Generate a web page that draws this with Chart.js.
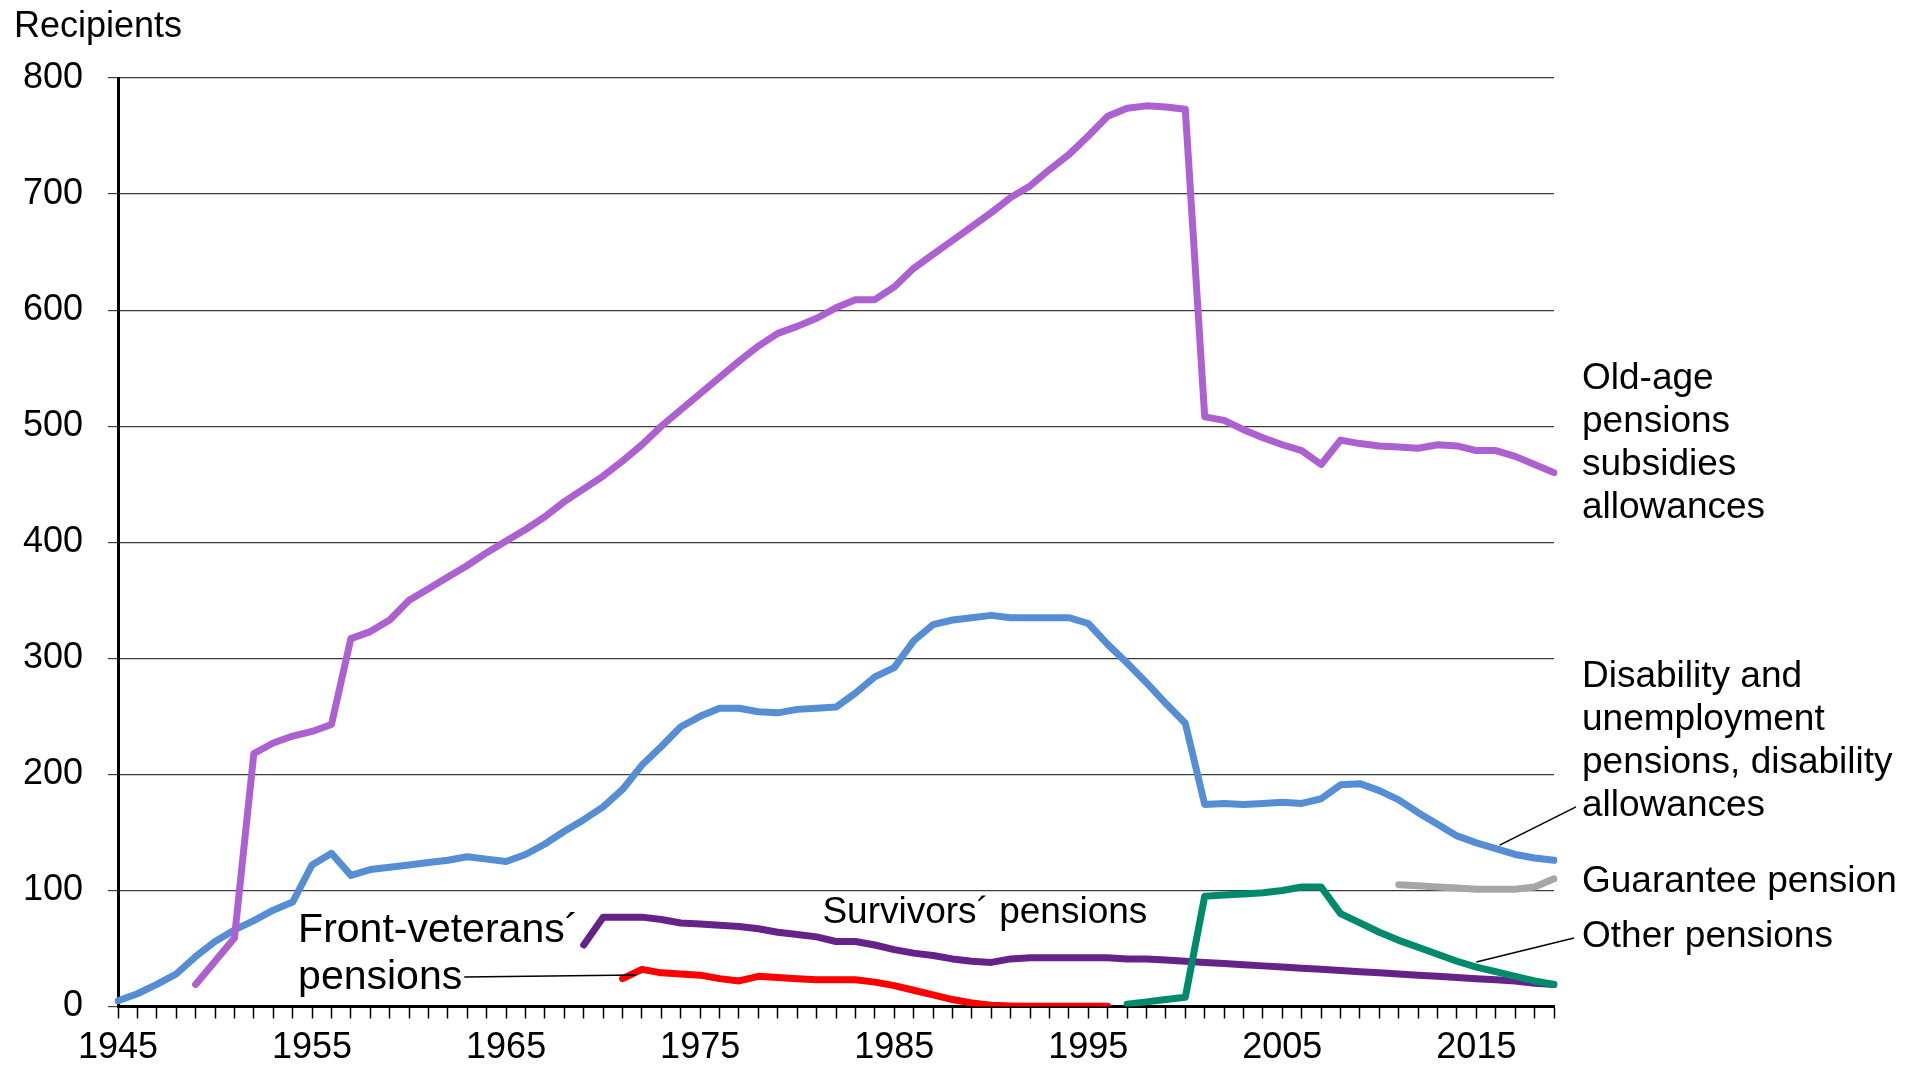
<!DOCTYPE html>
<html>
<head>
<meta charset="utf-8">
<script src="https://cdn.jsdelivr.net/npm/chart.js@4"></script>
<style>
  html, body { margin: 0; padding: 0; background: #fff; }
  canvas { display: block; }
</style>
</head>
<body>
<canvas id="chart" width="1921" height="1070"></canvas>
<script>
// --- DATA --- //
// years on the category axis
const years = []
for (let y = 1945; y <= 2019; y++) years.push(String(y))

// labels shown under the axis
const yearTicks = ['1945', '1955', '1965', '1975', '1985', '1995', '2005', '2015']
const valueTicks = [0, 100, 200, 300, 400, 500, 600, 700, 800]

// each series starts in a given year, values are thousands of recipients
const oldAgeStart = 1949
const oldAge = [
  19, 39, 59, 218, 227, 233, 237, 243, 317, 323,      // 1949-1958
  333, 350, 360, 370, 380, 391, 401, 411, 422, 435,    // 1959-1968
  446, 457, 470, 484, 500, 514, 528, 542, 556, 569,    // 1969-1978
  580, 586, 593, 602, 609, 609, 620, 636, 648, 660,    // 1979-1988
  672, 684, 697, 707, 721, 734, 750, 767, 774, 776,    // 1989-1998
  775, 773, 508, 505, 497, 490, 484, 479, 467, 488,    // 1999-2008
  485, 483, 482, 481, 484, 483, 479, 479, 474, 467,    // 2009-2018
  460                                                  // 2019
]

const disabilityStart = 1945
const disability = [
  5, 11, 19, 28, 43, 56, 66, 74, 83, 90,               // 1945-1954
  122, 132, 113, 118, 120, 122, 124, 126, 129, 127,    // 1955-1964
  125, 131, 140, 151, 161, 172, 187, 208, 224, 241,    // 1965-1974
  250, 257, 257, 254, 253, 256, 257, 258, 270, 284,    // 1975-1984
  292, 315, 329, 333, 335, 337, 335, 335, 335, 335,    // 1985-1994
  330, 312, 296, 279, 261, 244, 174, 175, 174, 175,    // 1995-2004
  176, 175, 179, 191, 192, 186, 178, 167, 157, 147,    // 2005-2014
  141, 136, 131, 128, 126                              // 2015-2019
]

const survivorsStart = 1969
const survivors = [
  53, 77, 77, 77, 75, 72, 71, 70, 69, 67,              // 1969-1978
  64, 62, 60, 56, 56, 53, 49, 46, 44, 41,              // 1979-1988
  39, 38, 41, 42, 42, 42, 42, 42, 41, 41,              // 1989-1998
  40, 39, 38, 37, 36, 35, 34, 33, 32, 31,              // 1999-2008
  30, 29, 28, 27, 26, 25, 24, 23, 22, 20,              // 2009-2018
  19                                                   // 2019
]

const frontVeteransStart = 1971
const frontVeterans = [
  24, 32, 29, 28, 27, 24, 22, 26, 25, 24,              // 1971-1980
  23, 23, 23, 21, 18, 14, 10, 6, 3, 1,                 // 1981-1990
  0.5, 0.3, 0.2, 0.2, 0.2, 0.2                         // 1991-1996
]

const otherStart = 1997
const other = [
  2, 4, 6, 8, 95, 96, 97, 98, 100, 103,                // 1997-2006
  103, 80, 72, 64, 57, 51, 45, 39, 34, 30,             // 2007-2016
  26, 22, 19                                           // 2017-2019
]

const guaranteeStart = 2011
const guarantee = [105, 104, 103, 102, 101, 101, 101, 103, 110] // 2011-2019

// places a series on the full year axis, missing years stay empty
function onAxis (start, values) {
  return years.map(y => {
    const i = Number(y) - start
    return i >= 0 && i < values.length ? values[i] : null
  })
}

// --- STYLE --- //
const FONT = '"Liberation Sans", Arial, sans-serif'

function line (label, data, color, order) {
  return {
    label,
    data,
    borderColor: color,
    backgroundColor: color,
    borderWidth: 7,
    borderJoinStyle: 'round',
    borderCapStyle: 'round',
    pointRadius: 0,
    tension: 0,
    spanGaps: false,
    order
  }
}

// --- LABELS & LEADER LINES --- //
const annotations = {
  id: 'annotations',
  afterDraw: chart => {
    const ctx = chart.ctx
    const xs = chart.scales.x
    const ys = chart.scales.y
    const area = chart.chartArea
    const X = idx => xs.getPixelForValue(idx)
    const Y = v => ys.getPixelForValue(v)

    ctx.save()
    ctx.fillStyle = '#000'
    ctx.textAlign = 'left'
    ctx.textBaseline = 'alphabetic'

    // axis title
    ctx.font = '36px ' + FONT
    ctx.fillText('Recipients', 14, 37)

    // right side labels
    ctx.font = '37px ' + FONT
    const rx = area.right + 28
    const block = (lines, v, step) =>
      lines.forEach((t, i) => ctx.fillText(t, rx, Y(v) + i * step))
    block(['Old-age', 'pensions', 'subsidies', 'allowances'], 532, 43)
    block(['Disability and', 'unemployment', 'pensions, disability', 'allowances'], 275.3, 43)
    block(['Guarantee pension'], 98.7, 0)
    block(['Other pensions'], 51.3, 0)

    // label inside the plot
    ctx.fillText('Survivors\u00b4 pensions', X(36.3), Y(72))

    // front-veterans label, a bit larger
    ctx.font = '41px ' + FONT
    const fx = X(9.28)
    ctx.fillText('Front-veterans\u00b4', fx, Y(55.6))
    ctx.fillText('pensions', fx, Y(55.6) + 47)
    const pw = ctx.measureText('pensions').width

    // leader lines
    ctx.strokeStyle = '#000'
    ctx.lineWidth = 1.5
    const leader = (x1, y1, x2, y2) => {
      ctx.beginPath()
      ctx.moveTo(x1, y1)
      ctx.lineTo(x2, y2)
      ctx.stroke()
    }
    leader(fx + pw + 2, Y(25.4), X(26.7), Y(27.1))
    leader(X(71.2), Y(139), area.right + 22, Y(172))
    leader(X(70.0), Y(38.3), area.right + 20, Y(59))

    ctx.restore()
  }
}

// --- CHART --- //
const chart = new Chart(document.getElementById('chart'), {
  type: 'line',
  data: {
    labels: years,
    datasets: [
      line('Other pensions', onAxis(otherStart, other), '#008A6C', 0),
      line('Old-age pensions subsidies allowances', onAxis(oldAgeStart, oldAge), '#AD60D2', 1),
      line('Disability and unemployment pensions, disability allowances', onAxis(disabilityStart, disability), '#558ED5', 2),
      line('Guarantee pension', onAxis(guaranteeStart, guarantee), '#A6A6A6', 3),
      line('Front-veterans\u00b4 pensions', onAxis(frontVeteransStart, frontVeterans), '#FF0000', 4),
      line('Survivors\u00b4 pensions', onAxis(survivorsStart, survivors), '#65238A', 5)
    ]
  },
  options: {
    responsive: false,
    animation: false,
    devicePixelRatio: 1,
    layout: { padding: { left: 0, top: 78, right: 367, bottom: 0 } },
    plugins: {
      legend: { display: false },
      tooltip: { enabled: false }
    },
    scales: {
      x: {
        type: 'category',
        offset: false,
        afterFit: scale => { scale.height = 63.5 },
        grid: {
          drawOnChartArea: false,
          drawTicks: true,
          tickLength: 12,
          tickColor: '#000',
          tickWidth: 1.5
        },
        border: { display: true, color: '#000', width: 3 },
        ticks: {
          autoSkip: false,
          maxRotation: 0,
          minRotation: 0,
          padding: 8,
          color: '#000',
          font: { family: FONT, size: 36 },
          callback: (v, i) => (yearTicks.includes(years[i]) ? years[i] : '')
        }
      },
      y: {
        min: valueTicks[0],
        max: valueTicks[valueTicks.length - 1],
        afterFit: scale => { scale.width = 118 },
        afterBuildTicks: scale => { scale.ticks = valueTicks.map(v => ({ value: v })) },
        grid: {
          color: '#3c3c3c',
          lineWidth: 1.2,
          tickLength: 10,
          tickColor: '#3c3c3c'
        },
        border: { display: true, color: '#000', width: 3 },
        ticks: {
          padding: 25,
          color: '#000',
          font: { family: FONT, size: 36 }
        }
      }
    }
  },
  plugins: [annotations]
})
</script>
</body>
</html>
